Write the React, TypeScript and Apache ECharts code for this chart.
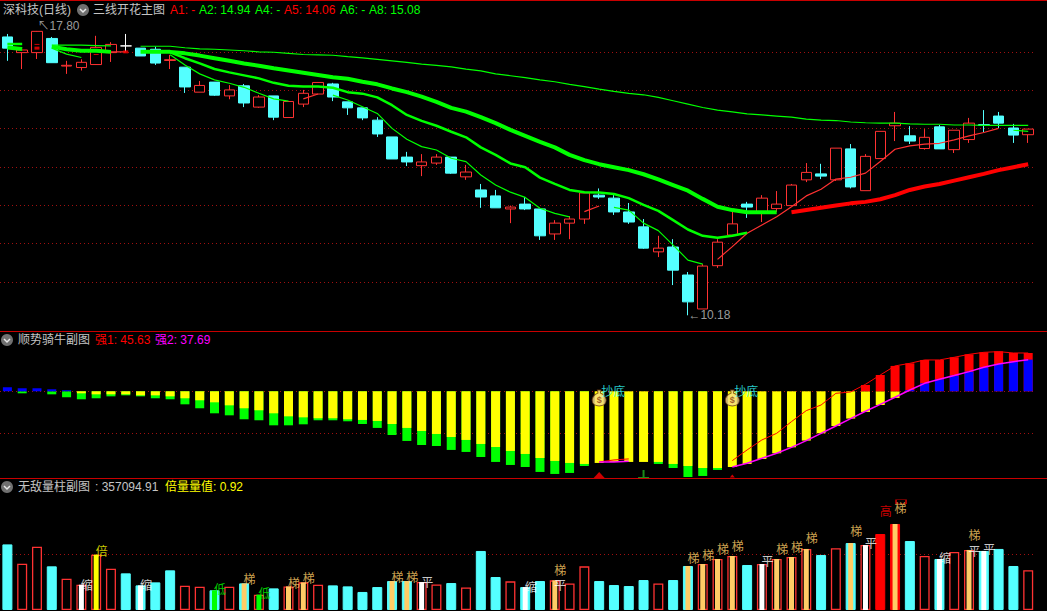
import React, { useEffect, useRef } from "react";
import * as echarts from "echarts";

// [open, close, low, high]
const candles: number[][] = [
  [17.64,17.34,17.00,17.72],[17.22,17.29,16.78,17.29],[17.22,17.79,17.05,17.80],[17.60,16.95,16.95,17.64],[16.86,16.88,16.65,17.00],
  [16.82,16.96,16.74,17.04],[16.90,17.36,16.90,17.67],[17.22,17.44,16.97,17.50],[17.40,17.40,17.24,17.72],[17.34,17.13,17.13,17.34],
  [17.31,16.94,16.89,17.38],[17.01,17.03,16.78,17.16],[16.83,16.30,16.14,16.83],[16.16,16.34,16.16,16.46],[16.43,16.08,16.06,16.43],
  [16.06,16.22,15.97,16.35],[16.33,15.87,15.76,16.38],[15.76,16.03,15.74,16.08],[16.06,15.49,15.41,16.06],[15.48,15.91,15.48,15.91],
  [15.84,16.13,15.76,16.22],[16.11,16.42,16.11,16.42],[16.38,16.03,15.92,16.41],[15.90,15.74,15.55,15.90],[15.74,15.47,15.41,15.74],
  [15.41,15.04,14.96,15.49],[14.96,14.37,14.37,14.96],[14.42,14.29,14.18,14.56],[14.19,14.29,13.91,14.50],[14.26,14.42,14.21,14.50],
  [14.42,13.99,13.97,14.42],[13.89,14.02,13.81,14.21],[13.54,13.35,13.06,13.70],[13.38,13.06,13.06,13.54],[13.03,13.08,12.65,13.12],
  [13.16,13.03,13.00,13.35],[13.03,12.31,12.20,13.03],[12.36,12.65,12.20,12.73],[12.65,12.76,12.22,12.84],[12.76,13.46,12.63,13.46],
  [13.40,13.35,13.30,13.58],[13.32,12.95,12.87,13.40],[12.95,12.68,12.63,13.19],[12.55,11.98,11.96,12.76],[11.88,11.98,11.74,12.31],
  [12.01,11.39,10.99,12.22],[11.26,10.54,10.18,11.34],[10.35,11.50,10.35,11.55],[11.51,12.14,11.45,12.22],[12.33,12.63,12.33,12.95],
  [13.16,13.08,12.79,13.22],[12.95,13.32,12.68,13.40],[13.04,13.16,12.95,13.51],[13.12,13.67,13.12,13.70],[13.81,14.01,13.75,14.26],
  [13.97,13.91,13.83,14.24],[13.81,14.66,13.78,14.66],[14.64,13.62,13.58,14.77],[13.52,14.44,13.52,14.50],[14.38,15.11,14.38,15.11],
  [15.26,15.33,14.85,15.63],[14.99,14.85,14.77,15.25],[14.65,14.95,14.62,15.17],[15.23,14.64,14.64,15.28],[14.62,15.14,14.53,15.14],
  [14.89,15.33,14.80,15.47],[15.29,15.27,15.09,15.68],[15.52,15.33,15.20,15.63],[15.20,15.01,14.80,15.31],[15.02,15.17,14.80,15.17],
];
const whiteCandles = [8];

const n = null;
const a8Thin = [n,n,n,17.42,17.42,17.42,17.41,17.40,n,17.39,17.39,17.39,17.35,17.32,17.31,17.29,17.27,17.24,17.23,17.20,17.17,17.16,17.15,17.11,17.08,17.04,17.00,16.96,16.91,16.88,16.84,16.78,16.73,16.65,16.60,16.55,16.49,16.44,16.37,16.31,16.24,16.18,16.13,16.09,16.02,15.93,15.84,15.75,15.68,15.63,15.58,15.55,15.52,15.49,15.44,15.41,15.40,15.36,15.34,15.33,15.33,15.31,15.30,15.30,15.28,15.28,15.27,15.27,15.27,15.27];
const thickGreen = [17.36,17.32,n,17.38,17.31,17.27,17.27,17.24,n,17.24,17.24,17.24,17.20,17.14,17.07,17.00,16.93,16.87,16.80,16.74,16.68,16.62,16.56,16.52,16.44,16.37,16.26,16.16,16.04,15.90,15.74,15.64,15.49,15.33,15.15,14.99,14.83,14.68,14.48,14.34,14.23,14.15,14.07,13.96,13.82,13.67,13.52,13.30,13.09,13.00,12.94,12.94,12.94,n,n,n,n,n,n,n,n,n,n,n,n,n,n,n,n,n];
const thickRed = [n,n,n,n,n,n,n,n,n,n,n,n,n,n,n,n,n,n,n,n,n,n,n,n,n,n,n,n,n,n,n,n,n,n,n,n,n,n,n,n,n,n,n,n,n,n,n,n,n,n,n,n,n,12.94,13.00,13.06,13.12,13.18,13.22,13.29,13.40,13.54,13.63,13.70,13.79,13.88,13.97,14.07,14.15,14.23];
const mediumGreen = [17.45,17.45,n,n,n,n,n,n,n,n,n,17.23,17.07,16.93,16.78,16.69,16.61,16.53,16.41,16.33,16.31,16.31,16.28,16.16,16.12,16.02,15.81,15.55,15.39,15.26,15.10,14.95,14.68,14.48,14.25,14.15,13.87,13.70,13.54,13.48,13.47,13.43,13.32,13.14,12.98,12.73,12.48,12.31,12.26,12.31,12.39,n,n,n,n,n,n,n,n,n,n,n,n,n,n,n,n,n,n,n];
const thinGreen = [n,n,n,17.34,17.18,17.09,n,n,n,n,n,17.16,16.89,16.65,16.49,16.40,16.29,16.13,15.98,15.92,n,n,16.08,15.95,15.77,15.59,15.19,14.90,14.70,14.61,14.39,14.30,13.94,13.67,13.48,13.34,13.05,12.91,12.82,n,n,13.07,13.00,12.65,12.45,12.06,11.66,11.55,n,n,n,n,n,n,n,n,n,n,n,n,n,n,n,n,n,n,n,n,15.14,15.11];
const thinRed = [n,n,n,n,n,n,n,17.24,17.24,n,n,n,n,n,n,n,n,n,n,n,15.98,16.11,n,n,n,n,n,n,n,n,n,n,n,n,n,n,n,n,n,12.96,13.11,n,n,n,n,n,n,n,11.68,12.02,12.38,12.60,12.82,13.09,13.38,13.56,13.83,13.88,13.99,14.30,14.63,14.72,14.77,14.79,14.88,14.99,15.08,15.19,n,n];
const redDashThin = [[2,17.44],[6,17.17]];
const redDashThick = [[2,17.34],[8,17.24]];
const highMark = [[2,17.80]];
const lowMark = [[46,10.18]];

const greenBars = [0,-2.4,0,-3.6,-7.1,-9.5,-8.3,-6.0,-4.8,-6.0,-8.3,-9.5,-15.5,-20.2,-26.2,-28.6,-33.3,-34.5,-40.5,-40.5,-39.3,-34.5,-34.5,-35.7,-38.9,-43.6,-52.0,-59.1,-63.9,-65.1,-69.8,-72.2,-78.2,-84.1,-87.7,-90.1,-96.0,-98.4,-97.2,-88.9,0,0,0,0,-86.5,-91.3,-102.0,-100.8,-93.6,0,0,0,0,0,0,0,0,0,0,0,0,0,0,0,0,0,0,0,0,0];
const yellowBars = [0,0,0,0,0,-2.4,-3.6,-3.6,-3.6,-4.8,-4.8,-6.0,-8.3,-10.7,-13.1,-16.7,-20.2,-22.6,-26.2,-29.8,-31.0,-32.1,-32.1,-33.3,-34.1,-35.3,-38.9,-43.6,-47.2,-50.8,-54.4,-57.9,-62.7,-66.3,-71.0,-74.6,-79.4,-82.9,-85.3,-86.5,-85.3,-84.1,-84.1,-84.1,-84.1,-86.5,-88.9,-91.3,-91.3,-90.1,-86.5,-80.6,-73.8,-66.7,-58.7,-50.0,-41.3,-32.5,-24.6,-16.3,-7.9,0,0,0,0,0,0,0,0,0];
const redBars = [n,n,n,n,n,n,n,n,n,n,n,n,n,n,n,n,n,n,n,n,n,n,n,n,n,n,n,n,n,n,n,n,n,n,n,n,n,n,n,n,n,n,n,n,n,n,n,n,n,n,n,n,n,n,n,n,n,n,7.5,19.4,30.2,33.3,37.3,37.3,40.5,44.0,46.4,47.6,45.6,45.63];
const blueBars = [4.8,3.6,3.6,2.4,1.2,n,n,n,n,n,n,n,n,n,n,n,n,n,n,n,n,n,n,n,n,n,n,n,n,n,n,n,n,n,n,n,n,n,n,n,n,n,n,n,n,n,n,n,n,n,n,n,n,n,n,n,n,n,n,n,n,1.6,9.5,14.3,18.7,23.4,28.6,32.5,35.3,37.69];
const strong1 = [n,n,n,n,n,n,n,n,n,n,n,n,n,n,n,n,n,n,n,n,n,n,n,n,n,n,n,n,n,n,n,n,n,n,n,n,n,n,n,n,-84.1,-81.7,-80.5,n,n,n,n,n,n,-82.5,-69.8,-57.9,-50.0,-36.1,-23.0,-16.3,-2.4,-0.8,8.3,19.4,30.2,33.3,37.3,37.3,40.5,44.0,46.4,47.2,45.6,45.63];
const strong2 = [n,n,n,n,n,n,n,n,n,n,n,n,n,n,n,n,n,n,n,n,n,n,n,n,n,n,n,n,n,n,n,n,n,n,n,n,n,n,n,n,-84.1,-84.1,-83.3,n,n,n,n,n,n,-90.1,-85.7,-79.8,-73.8,-66.7,-58.7,-50.0,-41.3,-32.5,-23.8,-15.5,-7.1,1.6,9.5,14.3,18.7,23.4,28.6,32.5,35.3,37.69];
const bagMarks = [[40,-8],[49,-8]];
const bottomMarks = [[40,1.5],[49,1.5]];
const redTriangleBig = [[40,-99.6]];
const redTriangleSmall = [[49,-100.8]];
const greenStem = [[43,-98.4]];

const volumes = [589000,416000,568000,392000,281000,227000,497000,371000,329000,221000,248000,356000,218000,209000,177000,209000,239000,138000,194000,212000,248000,227000,221000,212000,162000,206000,260000,260000,251000,230000,242000,203000,530000,296000,257000,206000,260000,266000,239000,392000,260000,224000,215000,269000,239000,269000,395000,413000,458000,485000,404000,413000,458000,476000,548000,494000,554000,601000,583000,682000,772000,619000,485000,458000,521000,539000,530000,548000,395000,357094.91];
const volumeKinds = "crrcrrrrcc" + "ccrrcrcrcr" + "rrccccccrr" + "crccrccrrr" + "ccccrccrrr" + "crrrrcrcrs" + "scrcrrcccr";
const whiteInner = [5,9,28,35,51,58,63,66];
const yellowInner = [6];
const greenInner = [14,17];
const orangeInner = [16,19,20,26,27,37,46,47,48,49,52,53,54,57,60,65];
const suoMarks = [[5,233000],[9,230000],[35,215000],[63,473000]];
const beiMarks = [[6,530000]];
const diMarks = [[14,194000],[17,159000]];
const tiMarks = [[16,284000],[19,248000],[20,293000],[26,305000],[27,305000],[37,368000],[46,467000],[47,494000],[48,548000],[49,583000],[52,548000],[53,568000],[54,655000],[57,718000],[60,922000],[65,675000]];
const pingMarks = [[28,260000],[37,228000],[51,440000],[58,610000],[65,535000],[66,551000]];
const gaoMarks = [[59,889000]];
const boxMarks = [[60,972000]];

const days = volumes.map((_, i) => String(i));

const CJK = '"Noto Sans CJK SC", "Liberation Sans", sans-serif';
const LATIN = '"Liberation Sans", "Noto Sans CJK SC", sans-serif';

const GRAY = "#c4c4c4";
const RED = "#ff0000";
const GREEN = "#00ff00";
const HOLLOW = "#ff3232";
const CYAN = "#54ffff";
const ORANGE = "#ffcc66";

// [text, x, y, colour]
const headerTexts: [string, number, number, string][] = [
  ["深科技(日线)", 3, 10, GRAY],
  ["三线开花主图", 93, 10, GRAY],
  ["A1: -", 170, 10, RED],
  ["A2: 14.94", 199, 10, GREEN],
  ["A4: -", 255, 10, GREEN],
  ["A5: 14.06", 284, 10, RED],
  ["A6: -", 340, 10, GREEN],
  ["A8: 15.08", 369, 10, GREEN],
  ["顺势骑牛副图", 18, 340, GRAY],
  ["强1: 45.63", 95, 340, RED],
  ["强2: 37.69", 155, 340, "#ff00ff"],
  ["无敌量柱副图", 18, 487, GRAY],
  [": 357094.91", 95, 487, GRAY],
  ["倍量量值: 0.92", 165, 487, "#ffff00"],
];
const iconSpots = [[83, 10], [7, 340], [7, 487]];
const separators = [0, 331, 478];

const bagPath = "path://M9 0H15L14 5C21 8 24 14 24 18C24 25 18 28 12 28C6 28 0 25 0 18C0 14 3 8 10 5Z";
const stemPath = "path://M4.5 0H6.5V7H11V8H0V7H4.5Z";

export default function App() {
  const ref = useRef<HTMLDivElement>(null);
  useEffect(() => {
    document.body.style.margin = "0";
    document.body.style.background = "#000";
    const chart = echarts.init(ref.current!, undefined, { renderer: "svg" });

    const gridBox = { left: -1.1, width: 1036.7 };
    const hiddenX = (gridIndex: number) => ({
      type: "category", gridIndex, data: days, show: false,
    });
    const dotted = { show: true, showMinLine: false, showMaxLine: false, lineStyle: { color: "#a01010", type: [1, 3], width: 1 } };
    const bareAxis = { axisLine: { show: false }, axisTick: { show: false }, axisLabel: { show: false } };

    const thinLine = (data: any[], color: string, width: number, xi = 0, yi = 0) => ({
      type: "line", data, xAxisIndex: xi, yAxisIndex: yi, showSymbol: false, symbol: "none",
      connectNulls: false, lineStyle: { color, width }, itemStyle: { color }, silent: true, z: 4,
    });
    const indicatorBar = (data: any[], color: string) => ({
      type: "bar", data, xAxisIndex: 1, yAxisIndex: 2, barWidth: 9, barGap: "-100%", clip: false,
      itemStyle: { color }, silent: true,
    });
    const textMark = (data: number[][], text: string, color: string) => ({
      type: "scatter", data, xAxisIndex: 2, yAxisIndex: 3, symbol: "circle", symbolSize: 1, clip: false,
      itemStyle: { color: "transparent" }, z: 6, silent: true,
      label: {
        show: true, position: "inside", offset: [5.5, 0], formatter: text, color,
        fontFamily: CJK, fontSize: 12,
      },
    });
    const pickColor = (i: number) =>
      whiteInner.includes(i) ? "#ffffff" :
      yellowInner.includes(i) ? "#ffff00" :
      greenInner.includes(i) ? "#00ff00" :
      orangeInner.includes(i) ? ORANGE : null;

    chart.setOption({
      animation: false,
      backgroundColor: "#000",
      grid: [
        { ...gridBox, top: 13.7, height: 306.6 },
        { ...gridBox, top: 349.3, height: 126 },
        { ...gridBox, top: 498.6, height: 111.4 },
        { ...gridBox, top: 498.6, height: 111.4 },
      ],
      xAxis: [hiddenX(0), hiddenX(1), hiddenX(2), hiddenX(3)],
      yAxis: [
        { type: "value", gridIndex: 0, min: 10.046, max: 18.263, show: false, splitLine: { show: false } },
        { type: "value", gridIndex: 0, min: 0, max: 8, interval: 1, ...bareAxis, splitLine: dotted },
        { type: "value", gridIndex: 1, min: -100, max: 50, interval: 50, ...bareAxis, splitLine: dotted },
        { type: "value", gridIndex: 2, min: 0, max: 1000000, interval: 500000, ...bareAxis, splitLine: dotted },
        { type: "value", gridIndex: 3, min: 0, max: 1000000, show: false, splitLine: { show: false } },
      ],
      series: [
        {
          type: "candlestick", xAxisIndex: 0, yAxisIndex: 0, barWidth: 11, silent: true,
          itemStyle: {
            color: "#000", color0: CYAN, borderColor: HOLLOW, borderColor0: CYAN, borderWidth: 1,
          },
          data: candles.map((c, i) =>
            whiteCandles.includes(i)
              ? { value: c, itemStyle: { color: "#fff", color0: "#fff", borderColor: "#fff", borderColor0: "#fff", borderColorDoji: "#fff" } }
              : c,
          ),
        },
        thinLine(a8Thin, GREEN, 1.2),
        thinLine(thinGreen, GREEN, 1.2),
        thinLine(thinRed, HOLLOW, 1.2),
        thinLine(mediumGreen, GREEN, 2.5),
        thinLine(thickGreen, GREEN, 4),
        thinLine(thickRed, RED, 4),
        {
          type: "scatter", data: redDashThin, xAxisIndex: 0, yAxisIndex: 0, symbol: "rect", symbolSize: [5, 1],
          itemStyle: { color: RED }, silent: true, z: 5,
        },
        {
          type: "scatter", data: redDashThick, xAxisIndex: 0, yAxisIndex: 0, symbol: "rect", symbolSize: [5, 3],
          itemStyle: { color: RED }, silent: true, z: 5,
        },
        {
          type: "scatter", data: highMark, xAxisIndex: 0, yAxisIndex: 0, symbol: "circle", symbolSize: 1, silent: true, z: 6,
          itemStyle: { color: "transparent" },
          label: { show: true, position: "right", distance: 0, offset: [0, -5], formatter: "↖17.80", color: GRAY, fontFamily: LATIN, fontSize: 12 },
        },
        {
          type: "scatter", data: lowMark, xAxisIndex: 0, yAxisIndex: 0, symbol: "circle", symbolSize: 1, silent: true, z: 6,
          itemStyle: { color: "transparent" },
          label: { show: true, position: "right", distance: 0, offset: [0, 0], formatter: "←10.18", color: GRAY, fontFamily: LATIN, fontSize: 12 },
        },
        indicatorBar(greenBars, "#00ff00"),
        indicatorBar(yellowBars, "#ffff00"),
        indicatorBar(redBars, "#ff0000"),
        indicatorBar(blueBars, "#0000ff"),
        thinLine(strong1, RED, 1, 1, 2),
        thinLine(strong2, "#ff00ff", 1.5, 1, 2),
        {
          type: "scatter", data: bagMarks, xAxisIndex: 1, yAxisIndex: 2, symbol: bagPath, symbolSize: [14, 16], clip: false, silent: true, z: 6,
          itemStyle: { color: "#f6dc8a", borderColor: "#6b3a10", borderWidth: 1 },
          label: { show: true, position: "inside", offset: [0, 2], formatter: "$", color: "#8a3b12", fontFamily: LATIN, fontSize: 9, fontWeight: "bold" },
        },
        {
          type: "scatter", data: bottomMarks, xAxisIndex: 1, yAxisIndex: 2, symbol: "circle", symbolSize: 1, clip: false, silent: true, z: 6,
          itemStyle: { color: "transparent" },
          label: { show: true, position: "inside", offset: [14, 0], formatter: "抄底", color: "#33ffff", fontFamily: CJK, fontSize: 12 },
        },
        {
          type: "scatter", data: redTriangleBig, xAxisIndex: 1, yAxisIndex: 2, symbol: "triangle", symbolSize: [11, 6], clip: false, silent: true, z: 6,
          itemStyle: { color: RED },
        },
        {
          type: "scatter", data: redTriangleSmall, xAxisIndex: 1, yAxisIndex: 2, symbol: "triangle", symbolSize: [5, 3], clip: false, silent: true, z: 6,
          itemStyle: { color: RED },
        },
        {
          type: "scatter", data: greenStem, xAxisIndex: 1, yAxisIndex: 2, symbol: stemPath, symbolSize: [11, 8], clip: false, silent: true, z: 6,
          itemStyle: { color: "#1fae1f" },
        },
        {
          type: "bar", xAxisIndex: 2, yAxisIndex: 3, barWidth: 10, silent: true,
          data: volumes.map((v, i) => {
            const k = volumeKinds[i];
            return {
              value: v,
              itemStyle: k === "c"
                ? { color: CYAN, borderColor: CYAN, borderWidth: 1 }
                : k === "s"
                  ? { color: RED, borderColor: RED, borderWidth: 1 }
                  : { color: "#000", borderColor: HOLLOW, borderWidth: 1.3 },
            };
          }),
        },
        {
          type: "bar", xAxisIndex: 3, yAxisIndex: 4, barWidth: 5, silent: true, z: 3,
          data: volumes.map((v, i) => {
            const color = pickColor(i);
            return color ? { value: v, itemStyle: { color } } : null;
          }),
        },
        textMark(suoMarks, "缩", "#ffffff"),
        textMark(beiMarks, "倍", "#ffff00"),
        textMark(diMarks, "低", "#00ff00"),
        textMark(tiMarks, "梯", ORANGE),
        textMark(pingMarks, "平", "#ffffff"),
        textMark(gaoMarks, "高", RED),
        {
          type: "scatter", data: boxMarks, xAxisIndex: 2, yAxisIndex: 3, symbol: "rect", symbolSize: [10, 4], symbolOffset: [6, 0], silent: true, z: 6,
          itemStyle: { color: "transparent", borderColor: RED, borderWidth: 1 },
        },
      ],
      graphic: [
        ...separators.map((y) => ({
          type: "rect", x: 0, y, z: 50, shape: { x: 0, y: 0, width: 1047, height: 1 }, style: { fill: "#c80000" }, silent: true,
        })),
        ...headerTexts.map(([text, x, y, fill]) => ({
          type: "text", x, y, z: 60, silent: true,
          style: { text, fill, font: `12px ${LATIN}`, verticalAlign: "middle", align: "left" },
        })),
        ...iconSpots.map(([x, y]) => ({
          type: "group", x, y, z: 60, silent: true,
          children: [
            { type: "circle", shape: { cx: 0, cy: 0, r: 6 }, style: { fill: "#707070" }, z: 60 },
            { type: "polyline", shape: { points: [[-3, -1], [0, 2], [3, -1]] }, style: { stroke: "#e8e8e8", lineWidth: 1.5, fill: "none" }, z: 61 },
          ],
        })),
      ],
    });
    return () => chart.dispose();
  }, []);
  return <div ref={ref} style={{ position: "fixed", left: 0, top: 0, width: 1047, height: 611, background: "#000" }} />;
}
